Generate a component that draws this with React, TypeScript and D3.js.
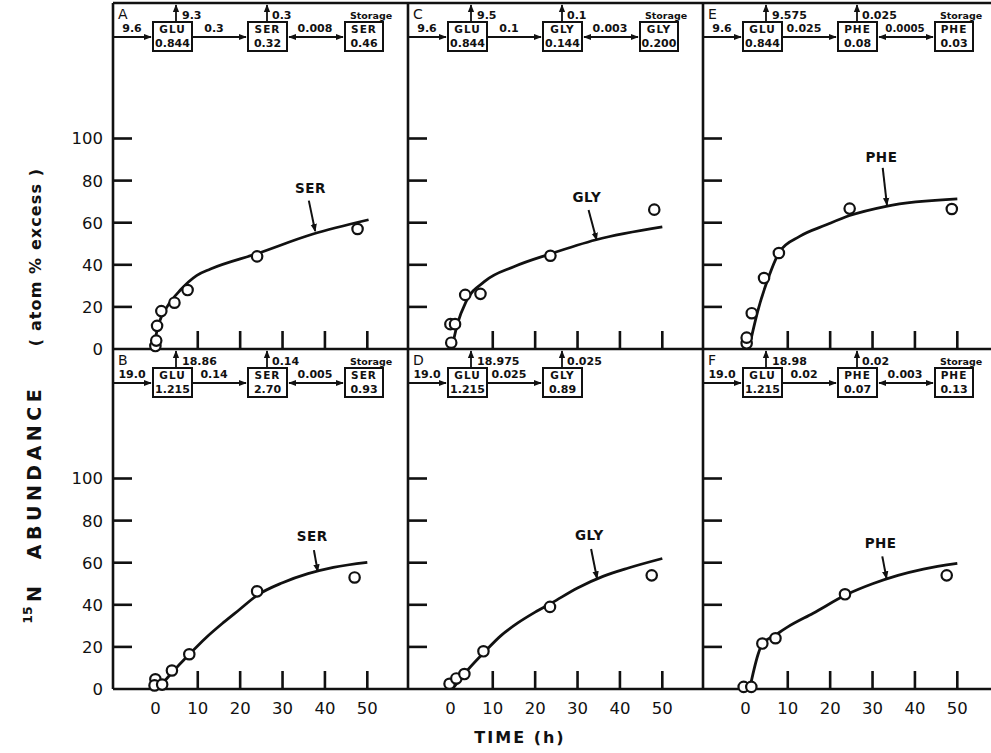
import * as d3 from "d3";

const W = 991;
const H = 753;
const FONT = "'DejaVu Sans', sans-serif";

// axes
const timeTicks = [0, 10, 20, 30, 40, 50];
const abundanceTicks = [0, 20, 40, 60, 80, 100];

// [time (h), 15N abundance (atom % excess)]
const serTopPts = [[0, 1.4], [0.2, 4], [0.4, 11], [1.4, 18], [4.5, 22], [7.6, 28], [24, 44], [47.7, 57]];
const serTopFit = [[-0.5, 0], [0.8, 12], [2.75, 20], [5.9, 28], [9.8, 35], [13, 38], [24, 45.3], [37, 54.5], [50.3, 61.4]];
const glyTopPts = [[0.2, 3], [0, 11.8], [1.1, 11.8], [3.5, 25.7], [7.1, 26.2], [23.6, 44.3], [48.1, 66.2]];
const glyTopFit = [[0.3, 0], [1.7, 12.2], [3.7, 22.5], [8, 32], [15.1, 39.2], [23.6, 45.2], [34.4, 51.9], [50, 58]];
const pheTopPts = [[0.3, 2.7], [0.3, 5.4], [1.5, 17], [4.4, 33.7], [7.9, 45.6], [24.6, 66.7], [48.7, 66.5]];
const pheTopFit = [[0.8, 0], [3, 18.6], [5.4, 33.7], [8.1, 46.3], [12.8, 53.5], [19.1, 59], [24.6, 63.4], [33.2, 67.8], [50, 71.3]];

const serBotPts = [[0, 4.6], [-0.2, 1.7], [1.6, 2.1], [3.9, 8.8], [8, 16.5], [24, 46.4], [47, 53]];
const serBotFit = [[-0.5, 0], [2, 3.5], [4, 8], [8, 16.5], [12, 24.5], [16, 31.5], [20, 38], [24, 44.5], [30, 50.5], [36, 54.8], [42, 57.8], [50, 60.2]];
const glyBotPts = [[-0.2, 2.5], [1.4, 5], [3.3, 7.1], [7.8, 17.9], [23.5, 39], [47.5, 54]];
const glyBotFit = [[0.5, 0], [3, 6.5], [8, 17.5], [12, 25.5], [16, 31.5], [20, 36.5], [24, 41], [30, 48], [36, 53.5], [42, 57.5], [50, 62]];
const pheBotPts = [[-0.4, 1], [1.4, 1], [4, 21.6], [7.1, 24.1], [23.5, 45], [47.5, 54]];
const pheBotFit = [[1, 0], [2, 9], [3, 16.5], [4, 21.5], [7, 25.5], [10, 29.5], [16, 36], [24, 45], [30, 50], [36, 54], [42, 57], [50, 59.7]];

// curve label: [labelT, labelV, arrowFromT, arrowFromV, arrowToT, arrowToV]
const serTopTag = [36.6, 74, 36.2, 70.5, 37.7, 56];
const glyTopTag = [32.2, 70, 32.6, 66, 34.5, 51.8];
const pheTopTag = [32.1, 89, 32.4, 86, 33.4, 68.4];
const serBotTag = [37, 70.5, 37.4, 66, 38.3, 55.8];
const glyBotTag = [32.8, 71, 33.2, 66.5, 34.6, 52.5];
const pheBotTag = [31.9, 67, 32.3, 63, 33.3, 52.5];

// compartment model: [in, GLU pool, GLU out, transfer, AA pool, AA out, exchange, storage pool]
const flowA = ["9.6", "0.844", "9.3", "0.3", "0.32", "0.3", "0.008", "0.46"];
const flowC = ["9.6", "0.844", "9.5", "0.1", "0.144", "0.1", "0.003", "0.200"];
const flowE = ["9.6", "0.844", "9.575", "0.025", "0.08", "0.025", "0.0005", "0.03"];
const flowB = ["19.0", "1.215", "18.86", "0.14", "2.70", "0.14", "0.005", "0.93"];
const flowD = ["19.0", "1.215", "18.975", "0.025", "0.89", "0.025", "", ""];
const flowF = ["19.0", "1.215", "18.98", "0.02", "0.07", "0.02", "0.003", "0.13"];

const panels = [
  { id: "A", col: 0, row: 0, aa: "SER", pts: serTopPts, fit: serTopFit, tag: serTopTag, flow: flowA },
  { id: "B", col: 0, row: 1, aa: "SER", pts: serBotPts, fit: serBotFit, tag: serBotTag, flow: flowB },
  { id: "C", col: 1, row: 0, aa: "GLY", pts: glyTopPts, fit: glyTopFit, tag: glyTopTag, flow: flowC },
  { id: "D", col: 1, row: 1, aa: "GLY", pts: glyBotPts, fit: glyBotFit, tag: glyBotTag, flow: flowD },
  { id: "E", col: 2, row: 0, aa: "PHE", pts: pheTopPts, fit: pheTopFit, tag: pheTopTag, flow: flowE },
  { id: "F", col: 2, row: 1, aa: "PHE", pts: pheBotPts, fit: pheBotFit, tag: pheBotTag, flow: flowF },
];

const colX = [113, 408, 703];
const PANEL_W = 295;
const rowTop = [3, 349];
const zeroY = [349, 689];
const SW = 2.6;

function Diagram({ x0, ty, aa, flow, id }: { x0: number; ty: number; aa: string; flow: string[]; id: string }) {
  const [fin, glu, gluOut, tr, pool, aaOut, ex, store] = flow;
  const bt = ty + 19;
  const bh = 29;
  const cy = ty + 34;
  const r1 = ty + 30;
  const r2 = ty + 44;
  const top = ty + 16;
  const fs = 11;
  const bold = { fontFamily: FONT, fontWeight: 700, fill: "#111" } as const;
  const box = (x: number, w: number, a: string, b: string) => (
    <g>
      <rect x={x} y={bt} width={w} height={bh} fill="#fff" stroke="#111" strokeWidth={2} />
      <text x={x + w / 2} y={r1} textAnchor="middle" fontSize={10.5} letterSpacing={1} {...bold}>{a}</text>
      <text x={x + w / 2} y={r2} textAnchor="middle" fontSize={fs} {...bold}>{b}</text>
    </g>
  );
  return (
    <g>
      <text x={x0 + 5} y={ty + 16} fontSize={14} fontFamily={FONT} fill="#111">{id}</text>
      {/* inflow */}
      <line x1={x0 + 1} x2={x0 + 38} y1={cy} y2={cy} stroke="#111" strokeWidth={1.8} markerEnd="url(#ah)" />
      <text x={x0 + 19} y={r1 - 1} textAnchor="middle" fontSize={fs} {...bold}>{fin}</text>
      {box(x0 + 40, 39, "GLU", glu)}
      <line x1={x0 + 63} x2={x0 + 63} y1={bt} y2={ty + 2} stroke="#111" strokeWidth={1.8} markerEnd="url(#ah)" />
      <text x={x0 + 69} y={top} fontSize={fs} {...bold}>{gluOut}</text>
      {/* transfer */}
      <line x1={x0 + 79} x2={x0 + 133} y1={cy} y2={cy} stroke="#111" strokeWidth={1.8} markerEnd="url(#ah)" />
      <text x={x0 + 101} y={r1 - 1} textAnchor="middle" fontSize={fs} {...bold}>{tr}</text>
      {box(x0 + 135, 39, aa, pool)}
      <line x1={x0 + 154} x2={x0 + 154} y1={bt} y2={ty + 2} stroke="#111" strokeWidth={1.8} markerEnd="url(#ah)" />
      <text x={x0 + 159} y={top} fontSize={fs} {...bold}>{aaOut}</text>
      {store && (
        <g>
          <line x1={x0 + 176} x2={x0 + 230} y1={cy} y2={cy} stroke="#111" strokeWidth={1.8} markerStart="url(#ahs)" markerEnd="url(#ah)" />
          <text x={x0 + 202} y={r1 - 1} textAnchor="middle" fontSize={ex.length > 5 ? 10.2 : fs} {...bold}>{ex}</text>
          {box(x0 + 232, 38, aa, store)}
          <text x={x0 + 258} y={top} textAnchor="middle" fontSize={9.5} {...bold}>Storage</text>
        </g>
      )}
    </g>
  );
}

function Panel({ p }: { p: (typeof panels)[number] }) {
  const x0 = colX[p.col];
  const x = d3.scaleLinear().domain([-10, 59.6]).range([x0, x0 + PANEL_W]);
  const y = d3.scaleLinear().domain([0, 100]).range([zeroY[p.row], zeroY[p.row] - 210.5]);
  const line = d3
    .line<number[]>()
    .x((d) => x(d[0]))
    .y((d) => y(d[1]))
    .curve(d3.curveMonotoneX);
  const [lt, lv, ft, fv, tt, tv] = p.tag;
  return (
    <g>
      <Diagram x0={x0} ty={rowTop[p.row]} aa={p.aa} flow={p.flow} id={p.id} />
      {abundanceTicks.slice(1).map((v) => (
        <line key={v} x1={x0} x2={x0 + 19} y1={y(v)} y2={y(v)} stroke="#111" strokeWidth={SW} />
      ))}
      {timeTicks.slice(1).map((t) => (
        <line key={t} x1={x(t)} x2={x(t)} y1={zeroY[p.row]} y2={zeroY[p.row] - 18} stroke="#111" strokeWidth={SW} />
      ))}
      <path d={line(p.fit) ?? ""} fill="none" stroke="#111" strokeWidth={2.8} />
      {p.pts.map((d, i) => (
        <circle key={i} cx={x(d[0])} cy={y(d[1])} r={5.2} fill="#fff" stroke="#111" strokeWidth={2.2} />
      ))}
      <text x={x(lt)} y={y(lv)} textAnchor="middle" fontSize={13.5} fontWeight={700} fontFamily={FONT} fill="#111" letterSpacing={0.5}>
        {p.aa}
      </text>
      <line x1={x(ft)} y1={y(fv)} x2={x(tt)} y2={y(tv)} stroke="#111" strokeWidth={2} markerEnd="url(#ah)" />
      {p.col === 0 &&
        abundanceTicks.map((v) => (
          <text key={v} x={103} y={y(v)} dy="0.36em" textAnchor="end" fontSize={16.5} fontFamily={FONT} fill="#111">
            {v}
          </text>
        ))}
      {p.row === 1 &&
        timeTicks.map((t) => (
          <text key={t} x={x(t)} y={zeroY[1] + 19} dy="0.36em" textAnchor="middle" fontSize={16.5} fontFamily={FONT} fill="#111">
            {t}
          </text>
        ))}
    </g>
  );
}

export default function App() {
  const right = W + 10;
  return (
    <svg width={W} height={H} style={{ display: "block", position: "absolute", left: 0, top: 0, background: "#fff" }}>
      <defs>
        <marker id="ah" viewBox="0 0 10 10" refX="9" refY="5" markerWidth="8" markerHeight="8" markerUnits="userSpaceOnUse" orient="auto">
          <path d="M0,1 L10,5 L0,9 Z" fill="#111" />
        </marker>
        <marker id="ahs" viewBox="0 0 10 10" refX="1" refY="5" markerWidth="8" markerHeight="8" markerUnits="userSpaceOnUse" orient="auto">
          <path d="M10,1 L0,5 L10,9 Z" fill="#111" />
        </marker>
      </defs>
      {/* frame */}
      <line x1={colX[0]} x2={right} y1={rowTop[0]} y2={rowTop[0]} stroke="#111" strokeWidth={SW} />
      <line x1={colX[0]} x2={right} y1={zeroY[0]} y2={zeroY[0]} stroke="#111" strokeWidth={SW} />
      <line x1={colX[0]} x2={right} y1={zeroY[1]} y2={zeroY[1]} stroke="#111" strokeWidth={SW} />
      {colX.map((cx) => (
        <line key={cx} x1={cx} x2={cx} y1={rowTop[0]} y2={zeroY[1]} stroke="#111" strokeWidth={SW} />
      ))}
      {panels.map((p) => (
        <Panel key={p.id} p={p} />
      ))}
      {/* axis titles */}
      <text x={520} y={743} textAnchor="middle" fontSize={16} fontWeight={700} fontFamily={FONT} letterSpacing={2} fill="#111">
        TIME (h)
      </text>
      <g transform="translate(41,0) rotate(-90)" fontFamily={FONT} fontWeight={700} fill="#111">
        <text x={-257} y={0} textAnchor="middle" fontSize={16} letterSpacing={1.1}>
          ( atom  %  excess )
        </text>
        <text x={-472} y={0} textAnchor="middle" fontSize={19} letterSpacing={4.5}>
          ABUNDANCE
        </text>
        <text x={-594} y={0} textAnchor="middle" fontSize={19}>
          N
        </text>
        <text x={-615} y={-9} textAnchor="middle" fontSize={12.5}>
          15
        </text>
      </g>
    </svg>
  );
}
